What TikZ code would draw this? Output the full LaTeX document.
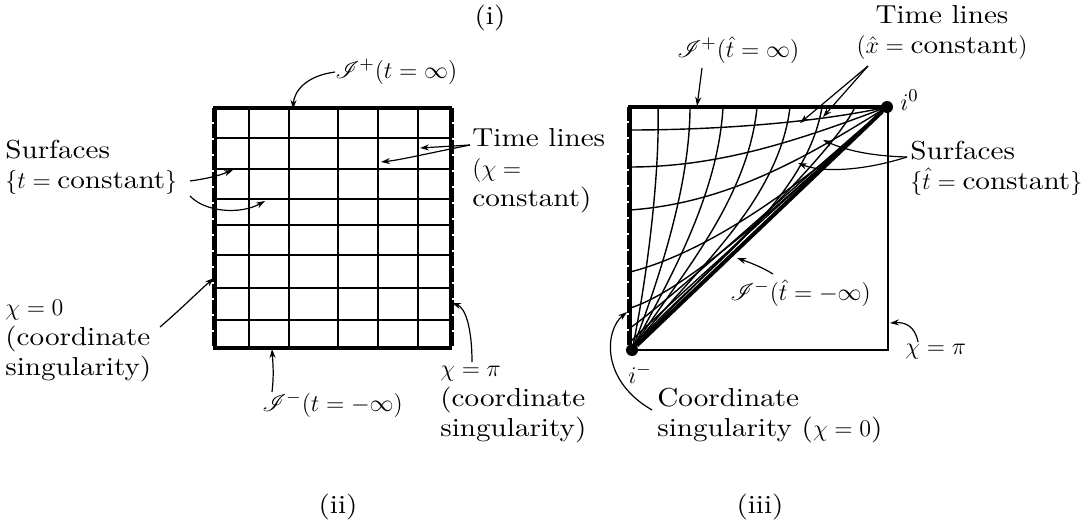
\documentclass[tikz,border=0pt]{standalone}
\usepackage{amsmath}
\usepackage{mathrsfs}
\usepackage{fontspec}
\setmainfont{lmroman10-regular.otf}[FakeStretch=1.12]
\usetikzlibrary{arrows.meta,positioning,calc}

\newcommand{\scri}{\mathscr{I}}

\begin{document}
\begin{tikzpicture}[x=0.5pt,y=-0.5pt,
  lbl/.style={inner sep=0pt, align=left, font=\fontsize{13}{15}\selectfont},
  arr/.style={-{Stealth[length=4.5pt,width=3pt]}, line width=0.6pt},
  gridline/.style={line width=1pt},
  rim/.style={line width=1.8pt},
  sing/.style={line width=1pt, dash pattern=on 7pt off 1pt},
  thin/.style={line width=0.7pt},
  dot/.style={circle, fill, inner sep=0pt, minimum size=6pt}
]
  \useasboundingbox (0,0) rectangle (1090,529);

  % (ii) the square grid
  \foreach \gx in {249,289,338,378,418}
    \draw[gridline] (\gx,108) -- (\gx,348);
  \foreach \gy in {138,169,199,225,255,288,320}
    \draw[gridline] (215,\gy) -- (450,\gy);
  \draw[rim] (213,108) -- (452,108);
  \draw[rim] (213,348) -- (452,348);
  \draw[line width=1.5pt] (215,108) -- (215,348);
  \draw[sing] (212.5,108) -- (212.5,348);
  \draw[line width=1.5pt] (450,108) -- (450,348);
  \draw[sing] (452.5,108) -- (452.5,348);

  % (iii) the triangle
  \draw[thin] (630,108) -- (888,108) -- (888,350) -- (630,350);
  \draw[rim] (628,107) -- (888,107);
  \draw[line width=1.5pt] (630,107) -- (630,350);
  \draw[sing] (627.5,107) -- (627.5,350);

  % surfaces t-hat = constant
  \draw[thin] (630,130) .. controls (720,130) and (820,122) .. (887,107);
  \draw[thin] (630,167) .. controls (720,167) and (800,140) .. (887,107);
  \draw[thin] (630,210) .. controls (730,203) and (810,155) .. (887,107);
  \draw[thin] (630,272) .. controls (710,252) and (810,180) .. (887,107);
  \draw[thin] (630,308) .. controls (690,290) and (800,185) .. (887,107);
  \draw[thin] (630,328) .. controls (670,300) and (790,190) .. (887,107);
  \draw[thin] (630,342) .. controls (660,312) and (790,196) .. (887,107);

  % time lines x-hat = constant
  \draw[thin] (632,350) .. controls (645,290) and (660,180) .. (658,107);
  \draw[thin] (632,350) .. controls (655,290) and (690,190) .. (690,107);
  \draw[thin] (632,350) .. controls (662,292) and (718,200) .. (723,107);
  \draw[thin] (632,350) .. controls (668,290) and (748,205) .. (757,107);
  \draw[thin] (632,350) .. controls (674,288) and (778,210) .. (790,107);
  \draw[thin] (632,350) .. controls (680,285) and (805,210) .. (822,107);
  \draw[thin] (632,350) .. controls (690,285) and (830,160) .. (855,107);

  \node[dot] (iminus) at (632,350) {};
  \node[dot] (izero) at (887,107) {};
  \draw[line width=2pt] (iminus) -- (izero);

  % labels
  \node[lbl] (capi) at (490,18) {(i)};
  \node[lbl] (capii) at (338,507) {(ii)};
  \node[lbl] (capiii) at (760,507) {(iii)};

  \node[lbl, anchor=west] (scrip) at (335,72) {$\scri^+(t=\infty)$};
  \node[lbl, anchor=west] (surf) at (5,167) {Surfaces\\$\{t=\text{constant}\}$};
  \node[lbl, anchor=west] (tlines) at (472,171) {Time lines\\$(\chi=$\\constant)};
  \node[lbl, anchor=west] (chizero) at (5,341) {$\chi=0$\\(coordinate\\singularity)};
  \node[lbl, anchor=west] (scrim) at (262,405) {$\scri^-(t=-\infty)$};
  \node[lbl, anchor=west] (chipi) at (440,405) {$\chi=\pi$\\(coordinate\\singularity)};

  \node[lbl, anchor=west] (hscrip) at (677,50) {$\scri^+(\hat{t}=\infty)$};
  \node[lbl, align=center] (htlines) at (942,32) {Time lines\\$(\hat{x}=\text{constant})$};
  \node[lbl, anchor=west] (izerolbl) at (900,100) {$i^0$};
  \node[lbl, anchor=west] (hsurf) at (910,168) {Surfaces\\$\{\hat{t}=\text{constant}\}$};
  \node[lbl, anchor=west] (hscrim) at (730,293) {$\scri^-(\hat{t}=-\infty)$};
  \node[lbl, anchor=west] (hchipi) at (905,352) {$\chi=\pi$};
  \node[lbl] (iminuslbl) at (640,374) {$i^-$};
  \node[lbl, anchor=west] (hcoord) at (657,416) {Coordinate\\singularity ($\chi=0$)};

  % arrow ends
  \coordinate (tp) at (293,109);
  \coordinate (s1a) at (190,181);
  \coordinate (s1) at (233,170);
  \coordinate (s2a) at (190,196);
  \coordinate (s2) at (265,201);
  \coordinate (ta) at (470,145);
  \coordinate (t1) at (420,148);
  \coordinate (t2) at (381,162);
  \coordinate (cza) at (160,327);
  \coordinate (cz) at (214,278);
  \coordinate (bta) at (272,392);
  \coordinate (bt) at (272,349);
  \coordinate (cpa) at (472,362);
  \coordinate (cp) at (452,303);
  \coordinate (htpa) at (702,68);
  \coordinate (htp) at (697,106);
  \coordinate (hta) at (868,66);
  \coordinate (ht1) at (800,123);
  \coordinate (ht2) at (823,117);
  \coordinate (hsa) at (907,157);
  \coordinate (hs1) at (823,140);
  \coordinate (hs2) at (798,163);
  \coordinate (hma) at (773,274);
  \coordinate (hm) at (737,258);
  \coordinate (hcpa) at (918,342);
  \coordinate (hcp) at (890,323);
  \coordinate (hca) at (652,410);
  \coordinate (hc) at (627,312);

  \draw[arr] (scrip.west) .. controls (305,76) and (294,92) .. (tp);
  \draw[arr] (s1a) .. controls (205,179) and (218,176) .. (s1);
  \draw[arr] (s2a) .. controls (205,212) and (240,215) .. (s2);
  \draw[arr] (ta) -- (t1);
  \draw[arr] (ta) .. controls (430,153) and (400,160) .. (t2);
  \draw[arr] (cza) .. controls (180,310) and (200,290) .. (cz);
  \draw[arr] (bta) .. controls (274,375) and (273,365) .. (bt);
  \draw[arr] (cpa) .. controls (472,330) and (466,308) .. (cp);

  \draw[arr] (htpa) .. controls (700,85) .. (htp);
  \draw[arr] (hta) -- (ht1);
  \draw[arr] (hta) -- (ht2);
  \draw[arr] (hsa) .. controls (870,156) and (845,150) .. (hs1);
  \draw[arr] (hsa) .. controls (860,172) and (820,172) .. (hs2);
  \draw[arr] (hma) .. controls (760,266) and (748,262) .. (hm);
  \draw[arr] (hcpa) .. controls (915,326) and (905,322) .. (hcp);
  \draw[arr] (hca) .. controls (600,380) and (605,330) .. (hc);
\end{tikzpicture}
\end{document}
